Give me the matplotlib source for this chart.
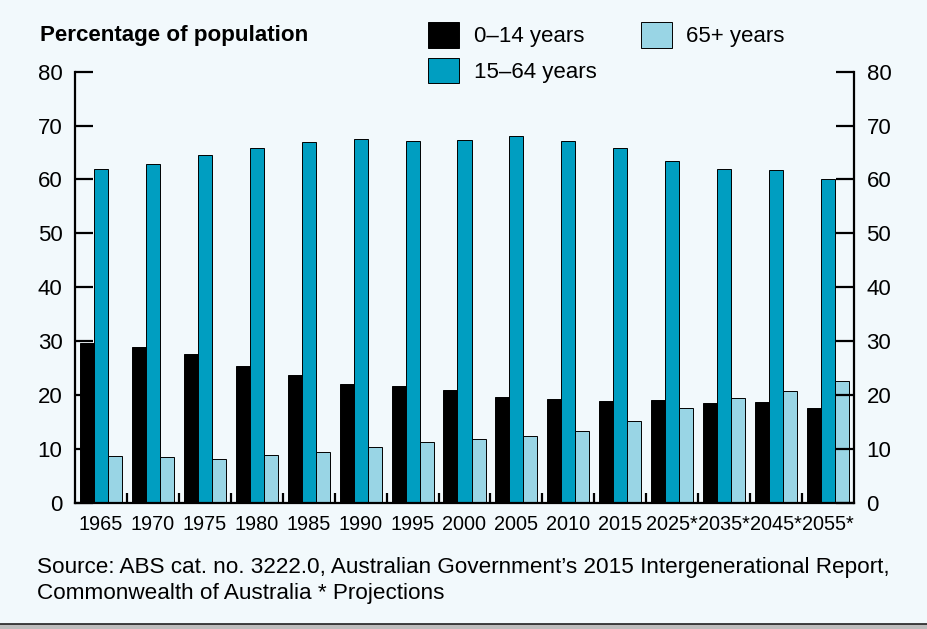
import numpy as np
import matplotlib.pyplot as plt
from matplotlib.patches import Rectangle
from matplotlib.ticker import FixedLocator

years = ["1965", "1970", "1975", "1980", "1985", "1990", "1995", "2000",
         "2005", "2010", "2015", "2025*", "2035*", "2045*", "2055*"]
age_0_14 = [29.7, 28.9, 27.6, 25.4, 23.7, 22.0, 21.6, 20.9,
            19.7, 19.2, 18.9, 19.1, 18.5, 18.7, 17.6]
age_15_64 = [61.9, 62.8, 64.5, 65.8, 66.9, 67.6, 67.2, 67.4,
             68.0, 67.2, 65.9, 63.5, 62.0, 61.7, 60.0]
age_65_plus = [8.6, 8.4, 8.05, 8.8, 9.5, 10.3, 11.2, 11.8,
               12.3, 13.4, 15.1, 17.5, 19.4, 20.7, 22.5]

bg = '#f2f9fc'
teal = '#009ec1'
light = '#99d5e5'

plt.rcParams['font.family'] = ['Liberation Sans', 'DejaVu Sans']

fig = plt.figure(figsize=(9.28, 6.29), dpi=100, facecolor=bg)
ax = fig.add_axes([75/928, 126.3/629, 779/928, 431/629])
ax.set_facecolor(bg)

x = np.arange(len(years))
w = 0.27
b1 = ax.bar(x - w, age_0_14, w, color='black', edgecolor='black', linewidth=0.7, label='0–14 years')
b2 = ax.bar(x, age_15_64, w, color=teal, edgecolor='black', linewidth=0.7, label='15–64 years')
b3 = ax.bar(x + w, age_65_plus, w, color=light, edgecolor='black', linewidth=0.7, label='65+ years')

ax.set_xlim(-0.5, len(years) - 0.5)
ax.set_ylim(0, 80)
ax.set_yticks(range(0, 81, 10))
ax.set_xticks(x)
ax.set_xticklabels(years)
ax.xaxis.set_minor_locator(FixedLocator(np.arange(0.5, len(years) - 1, 1)))

ax.spines['top'].set_visible(False)
for s in ['left', 'right', 'bottom']:
    ax.spines[s].set_linewidth(1.6)

ax.tick_params(axis='y', which='major', direction='in', length=13, width=1.6,
               left=True, right=True, labelleft=True, labelright=True,
               labelsize=16, pad=9)
ax.tick_params(axis='x', which='major', length=0, labelsize=14.3, pad=8.5)
ax.tick_params(axis='x', which='minor', direction='in', length=7, width=1.6)

fig.text(40/928, 1 - 36/629, 'Percentage of population', fontsize=16.1,
         fontweight='bold', va='center', ha='left')

fig.legend(handles=[b1, b2, b3], ncol=2, loc='upper left',
           bbox_to_anchor=(428/928, 1 - 22/629), frameon=False,
           fontsize=16, handlelength=1.4, handleheight=1.4,
           handletextpad=0.65, labelspacing=0.45, columnspacing=2.0,
           borderpad=0, borderaxespad=0)

fig.text(37/928, 1 - 567/629,
         'Source: ABS cat. no. 3222.0, Australian Government’s 2015 Intergenerational Report,',
         fontsize=16.2, va='center', ha='left')
fig.text(37/928, 1 - 593.5/629, 'Commonwealth of Australia * Projections',
         fontsize=16.2, va='center', ha='left')

# bottom edge of the panel
fig.add_artist(Rectangle((0, 0), 1, 5/629, transform=fig.transFigure,
                         facecolor='#bdbdbd', edgecolor='none'))
fig.add_artist(plt.Line2D([0, 1], [5.5/629, 5.5/629], transform=fig.transFigure,
                          color='#222222', linewidth=1.2))

fig.savefig('out.png', dpi=100, facecolor=bg)
